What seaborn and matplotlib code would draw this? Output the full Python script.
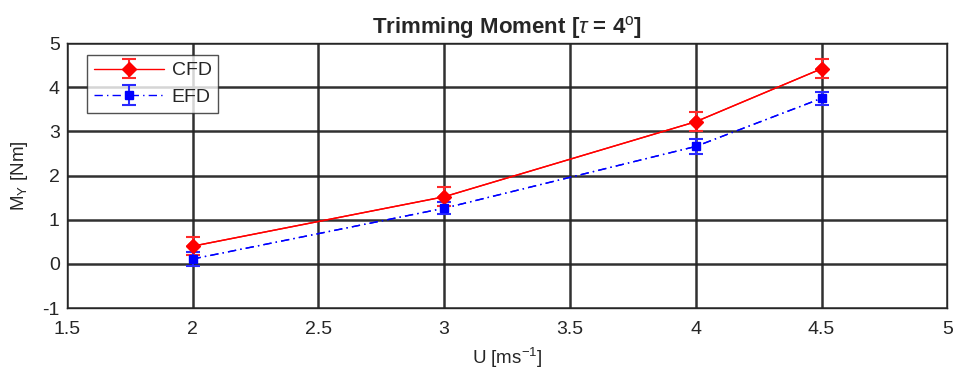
import matplotlib
matplotlib.use("Agg")
import matplotlib.pyplot as plt
import seaborn as sns
import pandas as pd

# Flow speed [m/s] and trimming moment [Nm] with uncertainty
speed = [2.0, 3.0, 4.0, 4.5]
cfd_moment = [0.40, 1.52, 3.22, 4.42]
cfd_err = [0.21, 0.22, 0.21, 0.21]
efd_moment = [0.11, 1.26, 2.66, 3.75]
efd_err = [0.16, 0.14, 0.17, 0.15]

xticks = [1.5, 2, 2.5, 3, 3.5, 4, 4.5, 5]
xtick_labels = ["1.5", "2", "2.5", "3", "3.5", "4", "4.5", "5"]
yticks = [-1, 0, 1, 2, 3, 4, 5]

sns.set_theme(style="whitegrid")
plt.rcParams["font.family"] = ["Liberation Sans", "DejaVu Sans"]
plt.rcParams["axes.unicode_minus"] = False
plt.rcParams["mathtext.fontset"] = "custom"
plt.rcParams["mathtext.rm"] = "Liberation Sans"
plt.rcParams["mathtext.it"] = "Liberation Sans:italic"
plt.rcParams["mathtext.bf"] = "Liberation Sans:bold"

fig = plt.figure(figsize=(9.54, 3.72), dpi=100)
ax = fig.add_axes([0.070, 0.172, 0.923, 0.712])
ax.set_axisbelow(True)

df = pd.DataFrame({"U": speed, "CFD": cfd_moment, "EFD": efd_moment})
dashdot = (0, (6, 3, 1, 3))

sns.lineplot(data=df, x="U", y="CFD", ax=ax, color="#ff0000", lw=1.0,
             marker="D", markersize=7, markeredgewidth=0, legend=False,
             zorder=4)
sns.lineplot(data=df, x="U", y="EFD", ax=ax, color="#0000ff", lw=1.0,
             linestyle=dashdot, marker="s", markersize=6,
             markeredgewidth=0, legend=False, zorder=4)

ax.errorbar(speed, cfd_moment, yerr=cfd_err, fmt="-D", color="#ff0000",
            ecolor="#ff2a2a", lw=1.0, markersize=7, mec="#ff0000",
            capsize=5, elinewidth=1.5, capthick=1.5, label="CFD", zorder=5)
ax.errorbar(speed, efd_moment, yerr=efd_err, fmt="s", color="#0000ff",
            ecolor="#2a2aff", ls=dashdot, lw=1.0, markersize=6,
            mec="#0000ff", capsize=5, elinewidth=1.5, capthick=1.5,
            label="EFD", zorder=5)

ax.set_xlim(1.5, 5)
ax.set_ylim(-1, 5)
ax.set_xticks(xticks)
ax.set_xticklabels(xtick_labels)
ax.set_yticks(yticks)
ax.tick_params(labelsize=14, colors="#262626", length=0)
ax.tick_params(axis="x", pad=9)
ax.tick_params(axis="y", pad=5)
ax.grid(True, color="#262626", lw=1.8, alpha=0.95)
for s in ax.spines.values():
    s.set_color("#262626")
    s.set_linewidth(1.0)

ax.set_xlabel("U [ms$^{-1}$]", fontsize=13.5, color="#262626", labelpad=6)
ax.set_ylabel("M$_\\mathrm{Y}$ [Nm]", fontsize=13.5, color="#262626", labelpad=9)
ax.set_title("Trimming Moment [$\\tau$ = 4$^\\mathrm{o}$]", fontsize=16,
             fontweight="bold", pad=7)

leg = ax.legend(loc="upper left", bbox_to_anchor=(0.023, 0.955),
                borderaxespad=0, fontsize=14, frameon=True, fancybox=False,
                edgecolor="#262626", handlelength=3.6, handletextpad=0.4,
                borderpad=0.35, labelspacing=0.45)
leg.get_frame().set_linewidth(1.0)
leg.set_zorder(10)

fig.savefig("out.png", dpi=100, facecolor="white")
